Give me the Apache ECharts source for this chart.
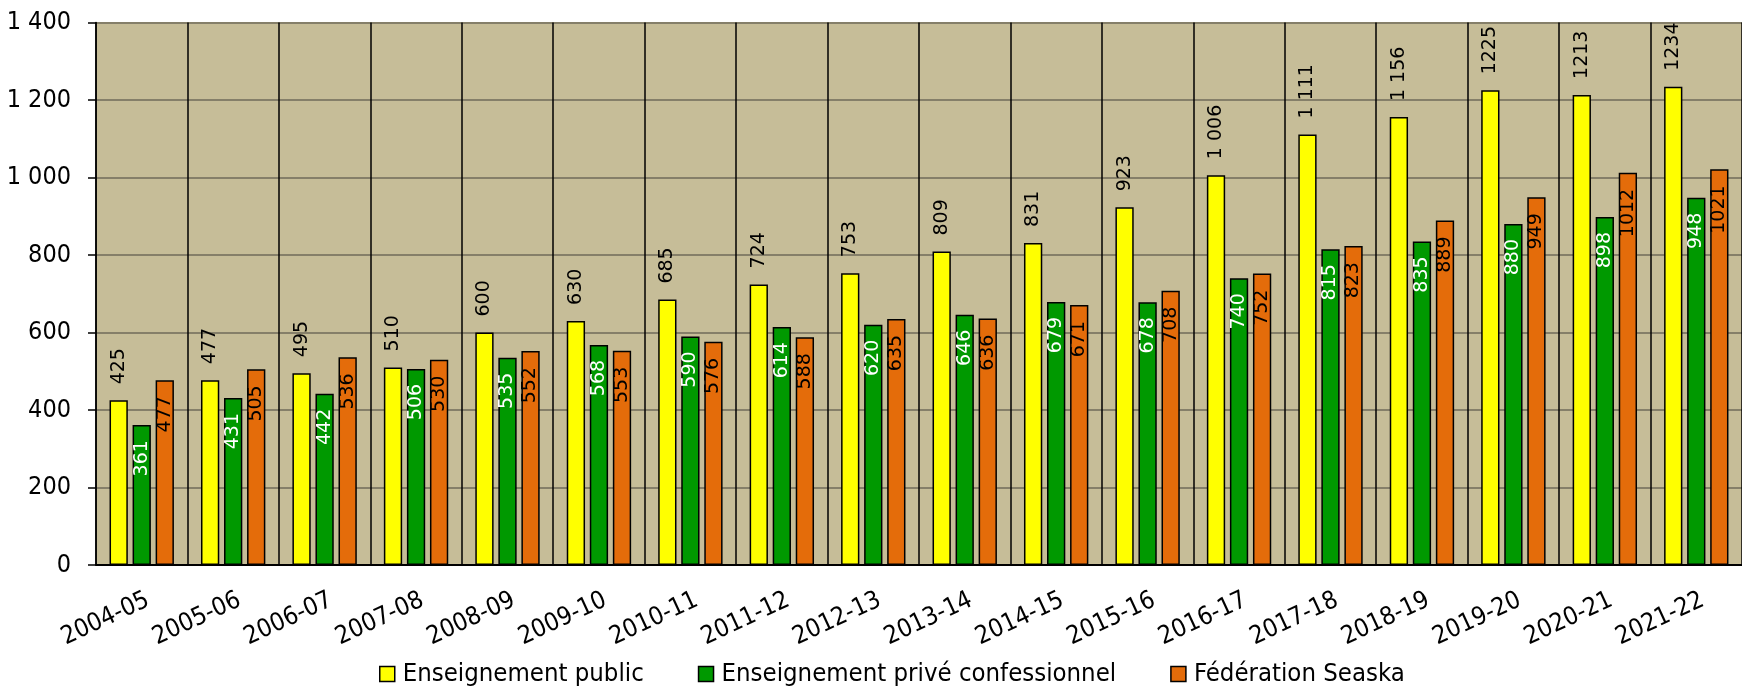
<!DOCTYPE html>
<html>
<head>
<meta charset="utf-8">
<script src="https://cdn.jsdelivr.net/npm/echarts@6/dist/echarts.min.js"></script>
<style>
html,body{margin:0;padding:0;background:#fff;}
#chart{width:1742px;height:687px;}
</style>
</head>
<body>
<div id="chart"></div>
<script>
const categories = ['2004-05','2005-06','2006-07','2007-08','2008-09','2009-10','2010-11','2011-12','2012-13','2013-14','2014-15','2015-16','2016-17','2017-18','2018-19','2019-20','2020-21','2021-22'];
const publicValues = [425,477,495,510,600,630,685,724,753,809,831,923,1006,1111,1156,1225,1213,1234];
const publicLabels = ['425','477','495','510','600','630','685','724','753','809','831','923','1 006','1 111','1 156','1225','1213','1234'];
const priveValues = [361,431,442,506,535,568,590,614,620,646,679,678,740,815,835,880,898,948];
const seaskaValues = [477,505,536,530,552,553,576,588,635,636,671,708,752,823,889,949,1012,1021];
const seriesNames = ['Enseignement public','Enseignement privé confessionnel','Fédération Seaska'];
const yTicks = ['0','200','400','600','800','1 000','1 200','1 400'];

const FONT = 'DejaVu Sans Condensed';
const LFONT = 'DejaVu Sans';
const chart = echarts.init(document.getElementById('chart'), null, {renderer:'canvas'});
const barBase = {
  type:'bar',
  barWidth:'20%',
  barGap:'26%'
};
chart.setOption({
  animation:false,
  backgroundColor:'#ffffff',
  grid:{left:96,right:-12,top:22.5,bottom:122,show:true,backgroundColor:'#C6BD98',borderWidth:0},
  legend:{
    bottom:0,left:379,padding:0,
    icon:'rect',itemWidth:15,itemHeight:15,itemGap:54,
    itemStyle:{borderColor:'#000',borderWidth:1.5},
    textStyle:{fontFamily:FONT,fontSize:25.5,color:'#000',padding:[0,0,0,3]},
    data:seriesNames
  },
  xAxis:{
    type:'category',data:categories,
    axisLine:{show:true,lineStyle:{color:'#000',width:2}},
    axisTick:{show:false},
    splitLine:{show:true,interval:0,lineStyle:{color:'#000',width:1.5}},
    axisLabel:{interval:0,rotate:25,margin:37,fontFamily:FONT,fontSize:25,color:'#000',padding:[0,-7,0,0]}
  },
  yAxis:{
    type:'value',min:0,max:1400,interval:200,
    axisLine:{show:true,lineStyle:{color:'#000',width:1.5}},
    axisTick:{show:true,length:8,lineStyle:{color:'#000',width:1.5}},
    splitLine:{show:true,lineStyle:{color:'#857F69',width:2}},
    axisLabel:{margin:25,fontFamily:FONT,fontSize:25,color:'#000',
      formatter:(v)=>yTicks[Math.round(v/200)]}
  },
  series:[
    Object.assign({},barBase,{
      name:seriesNames[0],data:publicValues,
      itemStyle:{color:'#FFFF00',borderColor:'#000',borderWidth:1.5},
      label:{show:true,position:'top',rotate:90,align:'left',verticalAlign:'middle',distance:16,
        fontFamily:LFONT,fontSize:19,color:'#000',formatter:(p)=>publicLabels[p.dataIndex]}
    }),
    Object.assign({},barBase,{
      name:seriesNames[1],data:priveValues,
      itemStyle:{color:'#009900',borderColor:'#000',borderWidth:1.5},
      label:{show:true,position:'insideTop',rotate:90,align:'right',verticalAlign:'middle',distance:15,
        fontFamily:LFONT,fontSize:19,color:'#fff'}
    }),
    Object.assign({},barBase,{
      name:seriesNames[2],data:seaskaValues,
      itemStyle:{color:'#E46C0A',borderColor:'#000',borderWidth:1.5},
      label:{show:true,position:'insideTop',rotate:90,align:'right',verticalAlign:'middle',distance:16,
        fontFamily:LFONT,fontSize:19,color:'#000'}
    })
  ]
});
</script>
</body>
</html>
